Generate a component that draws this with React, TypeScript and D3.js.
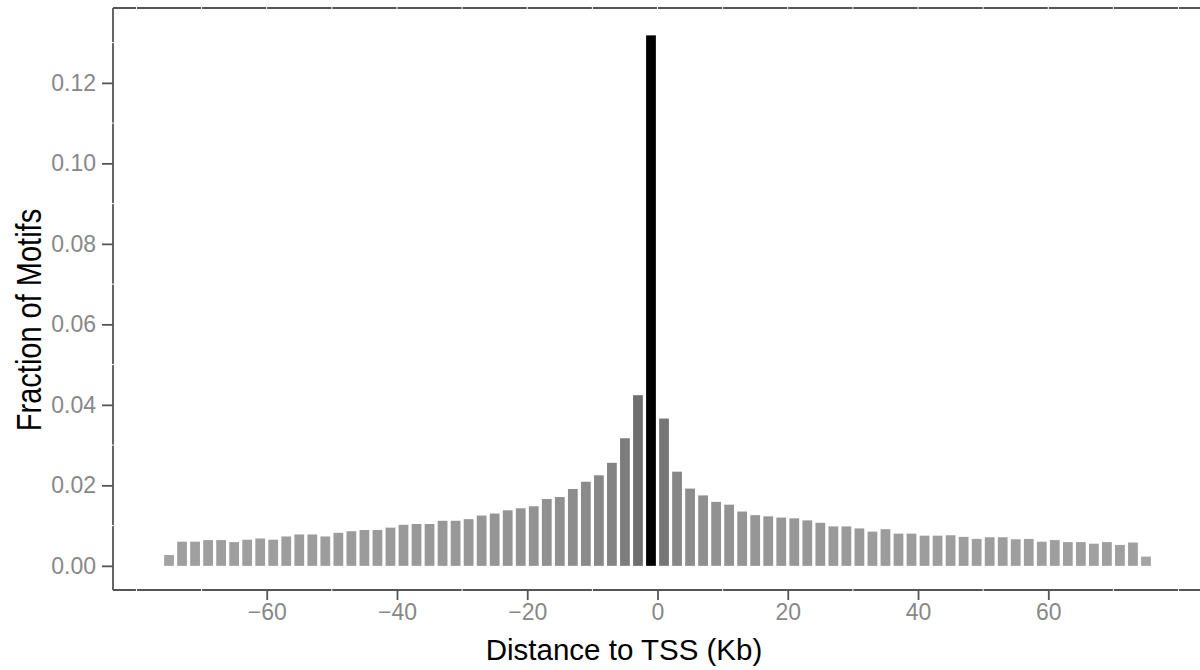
import * as d3 from "d3";
import { useEffect, useRef } from "react";

// bin centres (Kb) and the fraction of motifs in each 2 Kb bin
const binCenters: number[] = [
  -75, -73, -71, -69, -67, -65, -63, -61, -59, -57, -55, -53, -51, -49, -47, -45, -43, -41, -39,
  -37, -35, -33, -31, -29, -27, -25, -23, -21, -19, -17, -15, -13, -11, -9, -7, -5, -3, -1,
  1, 3, 5, 7, 9, 11, 13, 15, 17, 19, 21, 23, 25, 27, 29, 31, 33, 35, 37,
  39, 41, 43, 45, 47, 49, 51, 53, 55, 57, 59, 61, 63, 65, 67, 69, 71, 73, 75,
];
const fractions: number[] = [
  0.0027, 0.006, 0.006, 0.0064, 0.0064, 0.0059, 0.0065, 0.0068, 0.0065, 0.0073, 0.0078, 0.0078,
  0.0073, 0.0082, 0.0086, 0.0089, 0.0089, 0.0095, 0.0102, 0.0104, 0.0104, 0.0112, 0.0112, 0.0116,
  0.0125, 0.013, 0.0138, 0.0143, 0.0148, 0.0166, 0.0171, 0.0191, 0.0209, 0.0225, 0.0256, 0.0317,
  0.0424, 0.1318,
  0.0366, 0.0234, 0.0192, 0.0175, 0.0159, 0.0152, 0.0135, 0.0126, 0.0123, 0.012, 0.0118, 0.0113,
  0.0107, 0.0098, 0.0098, 0.0093, 0.0085, 0.0091, 0.008, 0.008, 0.0075, 0.0075, 0.0076, 0.0072,
  0.0067, 0.0071, 0.0071, 0.0066, 0.0067, 0.006, 0.0064, 0.0059, 0.0059, 0.0055, 0.0059, 0.0052,
  0.0058, 0.0023,
];
const xTicks: number[] = [-60, -40, -20, 0, 20, 40, 60];
const yTicks: number[] = [0, 0.02, 0.04, 0.06, 0.08, 0.1, 0.12];
const xGrid: number[] = [-80, -70, -60, -50, -40, -30, -20, -10, 0, 10, 20, 30, 40, 50, 60, 70, 80];
const yGrid: number[] = [0, 0.01, 0.02, 0.03, 0.04, 0.05, 0.06, 0.07, 0.08, 0.09, 0.1, 0.11, 0.12, 0.13];

const width = 1200;
const height = 670;
const panelLeft = 113;
const panelRight = 1202;
const panelTop = 8;
const panelBottom = 590;
const font = "'Liberation Sans', Arial, sans-serif";

export default function App() {
  const svgRef = useRef<SVGSVGElement>(null);

  useEffect(() => {
    const svg = d3.select(svgRef.current);
    svg.selectAll("*").remove();

    const x = d3.scaleLinear().domain([-83.6, 83.6]).range([panelLeft, panelRight]);
    const y = d3.scaleLinear().domain([-0.006, 0.1386]).range([panelBottom, panelTop]);
    const fill = d3
      .scaleLinear<string>()
      .domain([d3.min(fractions)!, d3.max(fractions)!])
      .range(["#a4a4a4", "#000000"])
      .interpolate(d3.interpolateLab);

    const data = binCenters.map((c, i) => ({ c, v: fractions[i] }));
    const barW = x(1.5) - x(0);

    // barras
    svg
      .append("g")
      .selectAll("rect")
      .data(data)
      .enter()
      .append("rect")
      .attr("x", (d) => x(d.c) - barW / 2)
      .attr("width", barW)
      .attr("y", (d) => y(d.v))
      .attr("height", (d) => y(0) - y(d.v))
      .attr("fill", (d) => fill(d.v));

    // borde del panel (izquierda, arriba, abajo)
    const border = svg.append("g").attr("stroke", "#555").attr("stroke-width", 1.8).attr("fill", "none");
    border.append("line").attr("x1", panelLeft).attr("x2", panelLeft).attr("y1", panelTop).attr("y2", panelBottom);
    border.append("line").attr("x1", panelLeft).attr("x2", width).attr("y1", panelTop).attr("y2", panelTop);
    border.append("line").attr("x1", panelLeft).attr("x2", width).attr("y1", panelBottom).attr("y2", panelBottom);

    // huecos blancos de la rejilla sobre el borde
    const gaps = svg.append("g").attr("stroke", "#fff").attr("stroke-width", 1);
    gaps
      .selectAll("line.gx")
      .data(xGrid)
      .enter()
      .append("line")
      .attr("x1", (d) => x(d))
      .attr("x2", (d) => x(d))
      .attr("y1", panelTop - 2)
      .attr("y2", panelTop + 2);
    gaps
      .selectAll("line.gb")
      .data(xGrid.filter((d) => !xTicks.includes(d)))
      .enter()
      .append("line")
      .attr("x1", (d) => x(d))
      .attr("x2", (d) => x(d))
      .attr("y1", panelBottom - 2)
      .attr("y2", panelBottom + 2);
    gaps
      .selectAll("line.gy")
      .data(yGrid.filter((d) => !yTicks.includes(d)))
      .enter()
      .append("line")
      .attr("x1", panelLeft - 2)
      .attr("x2", panelLeft + 2)
      .attr("y1", (d) => y(d))
      .attr("y2", (d) => y(d));

    // Eje X
    const gx = svg
      .append("g")
      .attr("transform", `translate(0,${panelBottom})`)
      .call(
        d3
          .axisBottom(x)
          .tickValues(xTicks)
          .tickSize(10)
          .tickPadding(4)
          .tickFormat((d) => String(d).replace("-", "\u2212"))
      );
    gx.select(".domain").remove();
    gx.selectAll(".tick line").attr("stroke", "#555").attr("stroke-width", 1.8);
    gx.selectAll(".tick text").attr("fill", "#888").attr("font-size", 23).attr("font-family", font);

    // Eje Y
    const gy = svg
      .append("g")
      .attr("transform", `translate(${panelLeft},0)`)
      .call(
        d3
          .axisLeft(y)
          .tickValues(yTicks)
          .tickSize(11)
          .tickPadding(6)
          .tickFormat(d3.format(".2f"))
      );
    gy.select(".domain").remove();
    gy.selectAll(".tick line").attr("stroke", "#555").attr("stroke-width", 1.8);
    gy.selectAll(".tick text").attr("fill", "#888").attr("font-size", 23).attr("font-family", font);

    // títulos
    svg
      .append("text")
      .attr("x", 624)
      .attr("y", 660)
      .attr("text-anchor", "middle")
      .attr("font-family", font)
      .attr("font-size", 29.5)
      .attr("fill", "#000")
      .text("Distance to TSS (Kb)");
    svg
      .append("text")
      .attr("transform", "translate(41,320) rotate(-90) scale(1,1.18)")
      .attr("text-anchor", "middle")
      .attr("font-family", font)
      .attr("font-size", 29)
      .attr("fill", "#000")
      .text("Fraction of Motifs");
  }, []);

  return (
    <svg
      ref={svgRef}
      width={width}
      height={height}
      style={{ position: "absolute", left: 0, top: 0, background: "#fff" }}
    />
  );
}
